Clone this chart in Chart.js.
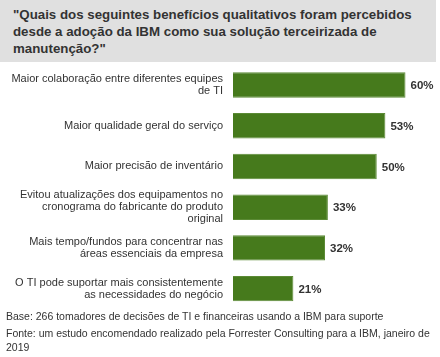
<!DOCTYPE html>
<html>
<head>
<meta charset="utf-8">
<script src="https://cdn.jsdelivr.net/npm/chart.js@4"></script>
<style>
  html, body { margin: 0; padding: 0; background: #fff; }
  body { width: 440px; height: 357px; position: relative; overflow: hidden; font-family: "Liberation Sans", Arial, sans-serif; }
  #title { position: absolute; left: 0; top: 0; width: 436px; height: 62px; background: #e0e0e0; box-sizing: border-box; padding: 6px 0 0 13px; font-weight: bold; font-size: 13.3px; line-height: 17px; color: #333; }
  #wrap { position: absolute; left: 0; top: 0; width: 440px; height: 357px; }
  #foot { position: absolute; left: 6px; top: 309px; width: 432px; font-size: 10.5px; color: #333; }
  #foot div { line-height: 14px; }
</style>
</head>
<body>
<div id="title">"Quais dos seguintes benefícios qualitativos foram percebidos<br>desde a adoção da IBM como sua solução terceirizada de<br>manutenção?"</div>
<div id="wrap"><canvas id="c" width="440" height="357"></canvas></div>
<div id="foot">
  <div style="margin-bottom:3px">Base: 266 tomadores de decisões de TI e financeiras usando a IBM para suporte</div>
  <div>Fonte: um estudo encomendado realizado pela Forrester Consulting para a IBM, janeiro de<br>2019</div>
</div>
<script>
const categories = [
  ["Maior colaboração entre diferentes equipes", "de TI"],
  "Maior qualidade geral do serviço",
  "Maior precisão de inventário",
  ["Evitou atualizações dos equipamentos no", "cronograma do fabricante do produto", "original"],
  ["Mais tempo/fundos para concentrar nas", "áreas essenciais da empresa"],
  ["O TI pode suportar mais consistentemente", "as necessidades do negócio"]
];
const values = [60, 53, 50, 33, 32, 21];
const valueLabels = values.map(v => v + "%");

const barLabels = {
  id: 'barLabels',
  afterDatasetsDraw(chart) {
    const ctx = chart.ctx;
    const meta = chart.getDatasetMeta(0);
    ctx.save();
    ctx.font = 'bold 11.5px "Liberation Sans", Arial, sans-serif';
    ctx.fillStyle = '#333';
    ctx.textAlign = 'left';
    ctx.textBaseline = 'middle';
    meta.data.forEach((bar, i) => {
      ctx.fillText(valueLabels[i], bar.x + 5, bar.y + 1);
    });
    ctx.restore();
  }
};

new Chart(document.getElementById('c'), {
  type: 'bar',
  data: {
    labels: categories,
    datasets: [{
      data: values,
      backgroundColor: '#467a1c',
      borderColor: '#5b8a35',
      borderWidth: 1,
      categoryPercentage: 0.8,
      barPercentage: 0.78
    }]
  },
  options: {
    indexAxis: 'y',
    responsive: false,
    animation: false,
    layout: { padding: { top: 64.6, bottom: 48, right: 0, left: 0 } },
    plugins: { legend: { display: false }, tooltip: { enabled: false } },
    scales: {
      x: { display: false, min: 0, max: 72 },
      y: {
        grid: { display: false, drawTicks: false },
        border: { display: false },
        afterFit(scale) { scale.width = 233; },
        ticks: {
          padding: 10,
          color: '#333',
          font: { family: '"Liberation Sans", Arial, sans-serif', size: 11, lineHeight: 1.08 }
        }
      }
    }
  },
  plugins: [barLabels]
});
</script>
</body>
</html>
